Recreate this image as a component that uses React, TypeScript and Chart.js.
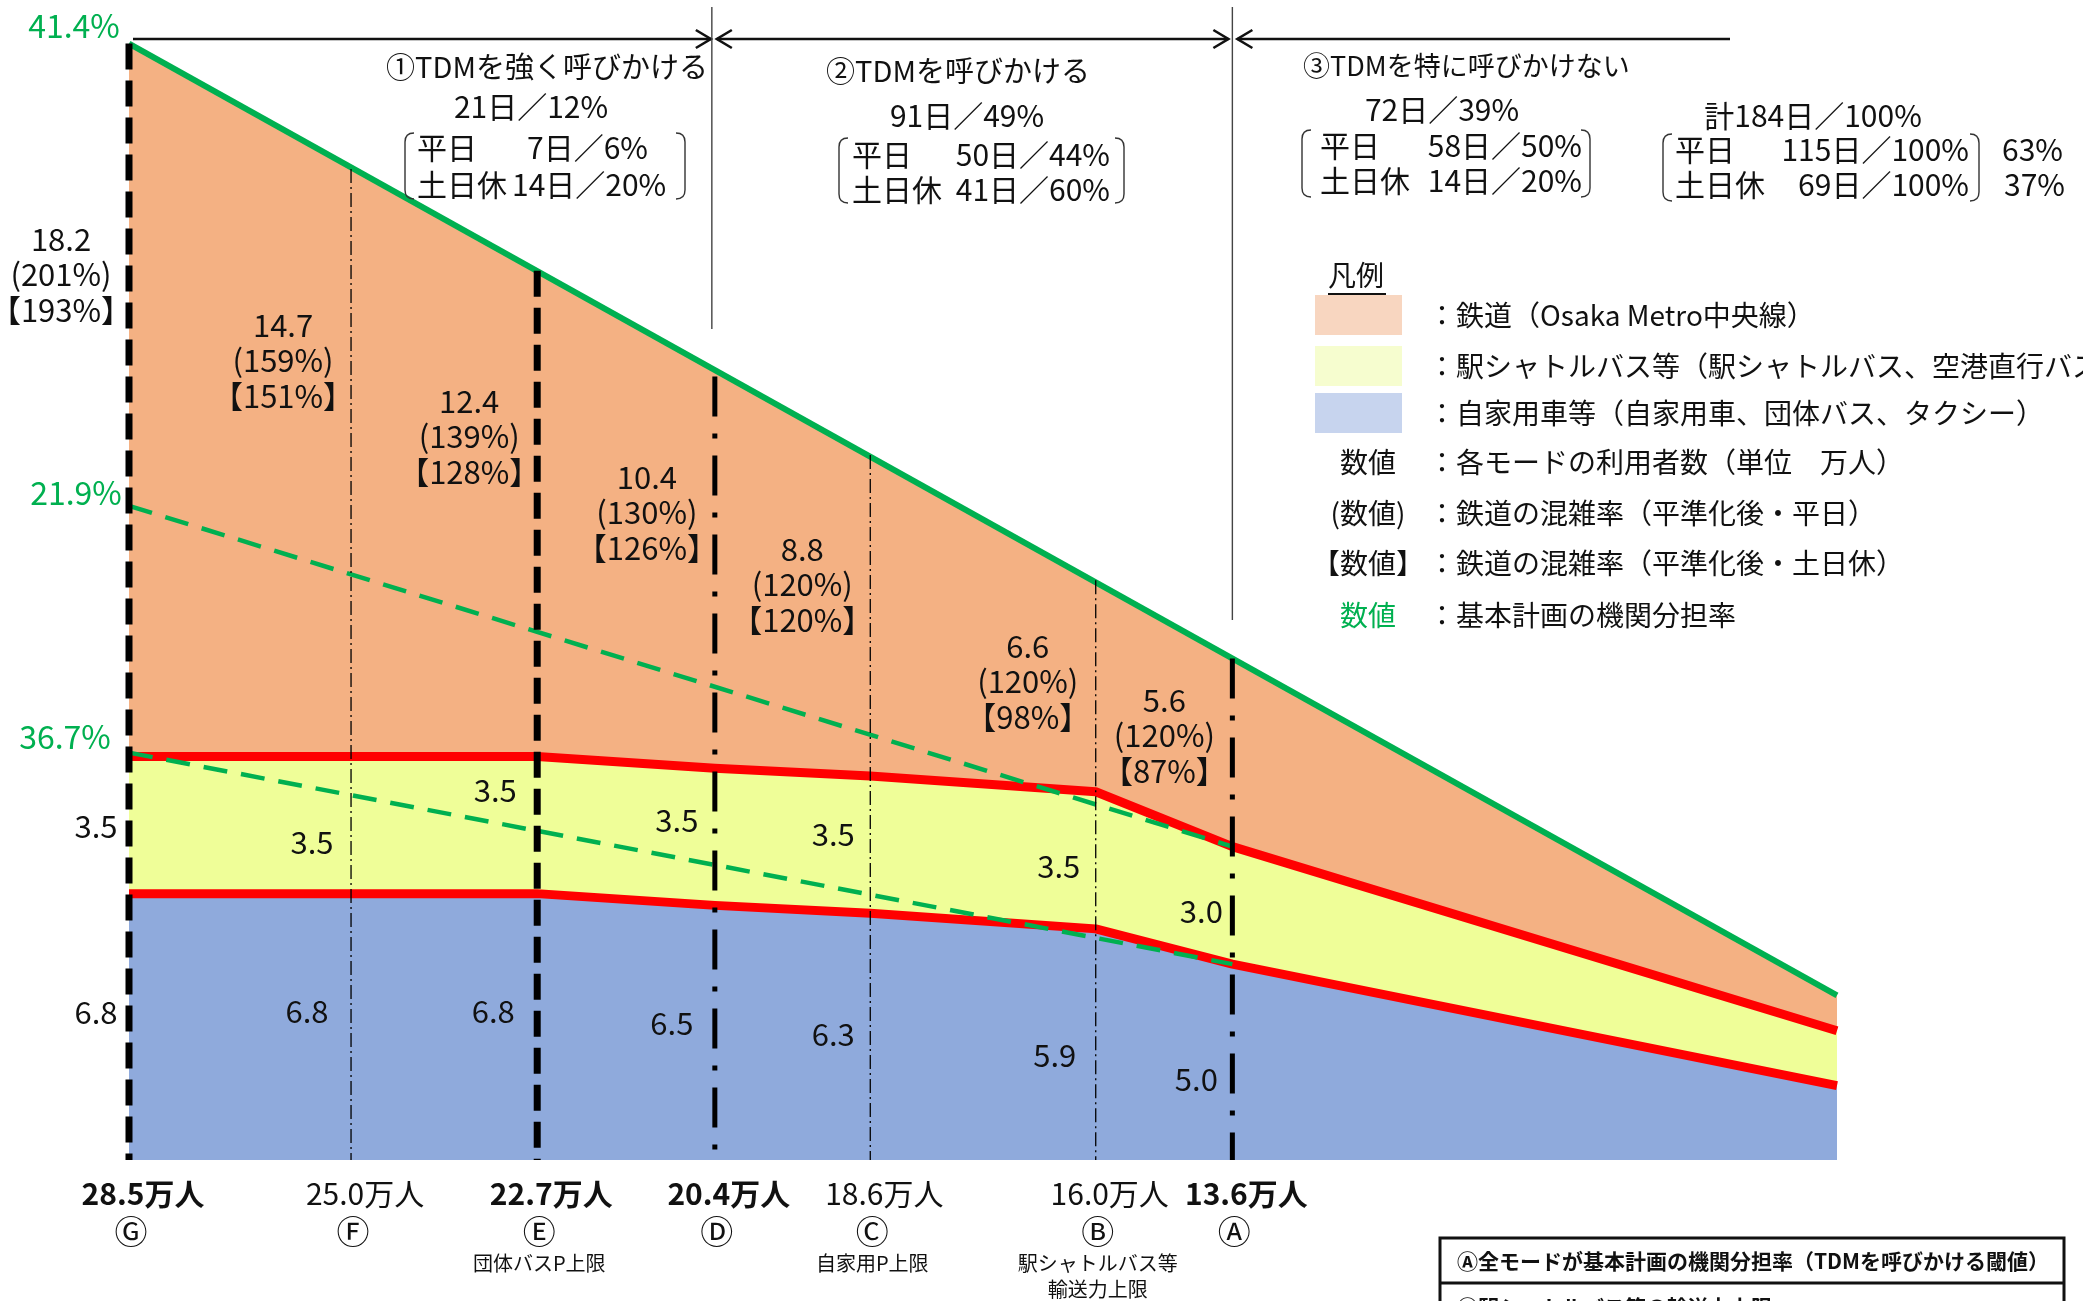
import React, { useEffect, useRef } from "react";
import { Chart, registerables } from "chart.js";

Chart.register(...registerables);

// ---------------- DATA ----------------
// milestones Ⓖ..Ⓐ (left to right) and their schematic position along the axis (0..100)
const milestoneMarks = ["Ⓖ", "Ⓕ", "Ⓔ", "Ⓓ", "Ⓒ", "Ⓑ", "Ⓐ"];
const milestonePos = [0, 13.0, 23.9, 34.3, 43.4, 56.6, 64.6];
const endPos = 100;
const totalUsers = [28.5, 25.0, 22.7, 20.4, 18.6, 16.0, 13.6]; // 万人
const boldMilestone = [true, false, true, true, false, false, true];
const milestoneNotes = ["", "", "団体バスP上限", "", "自家用P上限", "駅シャトルバス等|輸送力上限", ""];

const railUsers = [18.2, 14.7, 12.4, 10.4, 8.8, 6.6, 5.6];
const railWeekday = [201, 159, 139, 130, 120, 120, 120];
const railHoliday = [193, 151, 128, 126, 120, 98, 87];
const shuttleUsers = [3.5, 3.5, 3.5, 3.5, 3.5, 3.5, 3.0];
const carUsers = [6.8, 6.8, 6.8, 6.5, 6.3, 5.9, 5.0];
const endShuttle = 1.4;
const endCar = 1.9;

const totalLine = [28.5, 4.2]; // green line at Ⓖ and at right end
const planCarBus = [16.7, 8.0]; // dashed plan line (car+bus) at Ⓖ and Ⓐ
const planCar = [10.4, 5.0]; // dashed plan line (car) at Ⓖ and Ⓐ
const planShareLabels = ["41.4%", "21.9%", "36.7%"];
const guideTops = [28.5, 25.3, 22.7, 20.0, 18.0, 14.8, 12.8];
const guideStyles = ["dash", "thin", "dash", "dashdot", "thin", "thin", "dashdot"];

const phaseTitles = ["①TDMを強く呼びかける", "②TDMを呼びかける", "③TDMを特に呼びかけない"];
const phaseDays = [21, 91, 72];
const phaseShare = [12, 49, 39];
const weekdayDays = [7, 50, 58];
const weekdayShare = [6, 44, 50];
const holidayDays = [14, 41, 14];
const holidayShare = [20, 60, 20];
const totalDays = 184;
const totalWeekdayDays = 115;
const totalHolidayDays = 69;
const weekdayRatio = 63;
const holidayRatio = 37;

const legendSwatchLabels = [
  "：鉄道（Osaka Metro中央線）",
  "：駅シャトルバス等（駅シャトルバス、空港直行バス、中長距離バス）",
  "：自家用車等（自家用車、団体バス、タクシー）",
];
const legendKeyLabels = ["数値", "(数値)", "【数値】", "数値"];
const legendKeyTexts = [
  "：各モードの利用者数（単位　万人）",
  "：鉄道の混雑率（平準化後・平日）",
  "：鉄道の混雑率（平準化後・土日休）",
  "：基本計画の機関分担率",
];
const noteRows = ["Ⓐ全モードが基本計画の機関分担率（TDMを呼びかける閾値）", "Ⓑ駅シャトルバス等の輸送力上限"];

// ---------------- STYLE / LAYOUT ----------------
const W = 2083;
const H = 1301;
const FONT = '"Noto Sans CJK JP", "Noto Sans", sans-serif';
const C_RAIL = "#F4B183";
const C_BUS = "#EFFE98";
const C_CAR = "#8FAADC";
const C_RAIL_L = "#F8D6C0";
const C_BUS_L = "#F6FDCF";
const C_CAR_L = "#C7D4EE";
const GREEN = "#00B050";
const RED = "#FF0000";

const railLabelY = [239, 325, 401, 477, 549, 646, 700];
const busLabelY = [826, 842, 790, 820, 834, 866, 911];
const busLabelDX = [-33, -39, -42, -38, -37, -37, -31];
const carLabelY = [1012, 1011, 1011, 1023, 1034, 1055, 1079];
const carLabelDX = [-33, -44, -44, -43, -37, -41, -36];

function txt(
  ctx: CanvasRenderingContext2D,
  s: string,
  x: number,
  y: number,
  size: number,
  opt: { bold?: boolean; color?: string; align?: CanvasTextAlign } = {}
) {
  ctx.font = `${opt.bold ? "bold " : ""}${size}px ${FONT}`;
  ctx.fillStyle = opt.color || "#111";
  ctx.textAlign = opt.align || "center";
  ctx.textBaseline = "middle";
  ctx.fillText(s, x, y);
}

function bracket(ctx: CanvasRenderingContext2D, x: number, top: number, bottom: number, left: boolean) {
  const r = 9;
  const d = left ? 1 : -1;
  ctx.save();
  ctx.strokeStyle = "#333";
  ctx.lineWidth = 1.4;
  ctx.beginPath();
  ctx.moveTo(x + d * r, top);
  ctx.quadraticCurveTo(x, top, x, top + r);
  ctx.lineTo(x, bottom - r);
  ctx.quadraticCurveTo(x, bottom, x + d * r, bottom);
  ctx.stroke();
  ctx.restore();
}

function arrowLine(ctx: CanvasRenderingContext2D, x1: number, x2: number, y: number, headL: boolean, headR: boolean) {
  ctx.save();
  ctx.strokeStyle = "#111";
  ctx.lineWidth = 2.6;
  ctx.beginPath();
  ctx.moveTo(x1, y);
  ctx.lineTo(x2, y);
  ctx.stroke();
  const hl = 15;
  const hw = 9;
  if (headR) {
    ctx.beginPath();
    ctx.moveTo(x2 - hl, y - hw);
    ctx.lineTo(x2, y);
    ctx.lineTo(x2 - hl, y + hw);
    ctx.stroke();
  }
  if (headL) {
    ctx.beginPath();
    ctx.moveTo(x1 + hl, y - hw);
    ctx.lineTo(x1, y);
    ctx.lineTo(x1 + hl, y + hw);
    ctx.stroke();
  }
  ctx.restore();
}

const dayStr = (d: number, p: number) => `${d}日／${p}%`;

const annotate = {
  id: "annotate",
  afterDraw(chart: any) {
    const ctx: CanvasRenderingContext2D = chart.ctx;
    const xs = chart.scales.x;
    const px = milestonePos.map((v) => xs.getPixelForValue(v));
    const xD = px[3];
    const xA = px[6];
    const xG = px[0];

    // ---- phase arrows & separators ----
    const ay = 39;
    arrowLine(ctx, xG + 4, xD - 4, ay, false, true);
    arrowLine(ctx, xD + 2, xA - 4, ay, true, true);
    arrowLine(ctx, xA + 5, 1730, ay, true, false);
    ctx.save();
    ctx.strokeStyle = "#444";
    ctx.lineWidth = 1.4;
    ctx.beginPath();
    ctx.moveTo(xD - 3, 7);
    ctx.lineTo(xD - 3, 329);
    ctx.moveTo(xA, 7);
    ctx.lineTo(xA, 620);
    ctx.stroke();
    ctx.restore();

    // ---- phase texts ----
    const FS = 30;
    txt(ctx, phaseTitles[0], 547, 67, 29);
    txt(ctx, dayStr(phaseDays[0], phaseShare[0]), 531, 107, FS);
    txt(ctx, "平日", 417, 148, FS, { align: "left" });
    txt(ctx, dayStr(weekdayDays[0], weekdayShare[0]), 527, 148, FS, { align: "left" });
    txt(ctx, "土日休", 417, 185, FS, { align: "left" });
    txt(ctx, dayStr(holidayDays[0], holidayShare[0]), 512, 185, FS, { align: "left" });
    bracket(ctx, 405, 133, 199, true);
    bracket(ctx, 685, 133, 199, false);

    txt(ctx, phaseTitles[1], 958, 71, 29);
    txt(ctx, dayStr(phaseDays[1], phaseShare[1]), 967, 116, FS);
    txt(ctx, "平日", 852, 155, FS, { align: "left" });
    txt(ctx, dayStr(weekdayDays[1], weekdayShare[1]), 1110, 155, FS, { align: "right" });
    txt(ctx, "土日休", 852, 190, FS, { align: "left" });
    txt(ctx, dayStr(holidayDays[1], holidayShare[1]), 1110, 190, FS, { align: "right" });
    bracket(ctx, 839, 138, 203, true);
    bracket(ctx, 1124, 138, 203, false);

    txt(ctx, phaseTitles[2], 1303, 66, 27, { align: "left" });
    txt(ctx, dayStr(phaseDays[2], phaseShare[2]), 1442, 110, FS);
    txt(ctx, "平日", 1320, 146, FS, { align: "left" });
    txt(ctx, dayStr(weekdayDays[2], weekdayShare[2]), 1582, 146, FS, { align: "right" });
    txt(ctx, "土日休", 1320, 181, FS, { align: "left" });
    txt(ctx, dayStr(holidayDays[2], holidayShare[2]), 1582, 181, FS, { align: "right" });
    bracket(ctx, 1302, 130, 197, true);
    bracket(ctx, 1590, 130, 197, false);

    txt(ctx, `計${totalDays}日／100%`, 1813, 116, FS);
    txt(ctx, "平日", 1675, 150, FS, { align: "left" });
    txt(ctx, dayStr(totalWeekdayDays, 100), 1969, 150, FS, { align: "right" });
    txt(ctx, "土日休", 1675, 185, FS, { align: "left" });
    txt(ctx, dayStr(totalHolidayDays, 100), 1969, 185, FS, { align: "right" });
    bracket(ctx, 1663, 134, 201, true);
    bracket(ctx, 1979, 134, 201, false);
    txt(ctx, `${weekdayRatio}%`, 2002, 150, FS, { align: "left" });
    txt(ctx, `${holidayRatio}%`, 2004, 185, FS, { align: "left" });

    // ---- legend ----
    const LF = 28;
    txt(ctx, "凡例", 1328, 275, LF, { align: "left" });
    ctx.save();
    ctx.strokeStyle = "#111";
    ctx.lineWidth = 2;
    ctx.beginPath();
    ctx.moveTo(1328, 294);
    ctx.lineTo(1386, 294);
    ctx.stroke();
    ctx.restore();
    const swY = [295, 346, 393];
    const swC = [C_RAIL_L, C_BUS_L, C_CAR_L];
    for (let i = 0; i < 3; i++) {
      ctx.fillStyle = swC[i];
      ctx.fillRect(1315, swY[i], 87, 40);
      txt(ctx, legendSwatchLabels[i], 1428, swY[i] + 20, LF, { align: "left" });
    }
    const kY = [462, 513, 563, 615];
    for (let i = 0; i < 4; i++) {
      txt(ctx, legendKeyLabels[i], 1368, kY[i], LF, { color: i === 3 ? GREEN : "#111" });
      txt(ctx, legendKeyTexts[i], 1428, kY[i], LF, { align: "left" });
    }

    // ---- plan share labels (green) ----
    txt(ctx, planShareLabels[0], 74, 26, 32, { color: GREEN });
    txt(ctx, planShareLabels[1], 76, 493, 32, { color: GREEN });
    txt(ctx, planShareLabels[2], 65, 737, 32, { color: GREEN });

    // ---- value labels ----
    const VF = 31;
    for (let i = 0; i < milestonePos.length; i++) {
      const x = px[i];
      const rx = x - 68;
      txt(ctx, railUsers[i].toFixed(1), rx, railLabelY[i], VF);
      txt(ctx, `(${railWeekday[i]}%)`, rx, railLabelY[i] + 35.5, VF);
      txt(ctx, `【${railHoliday[i]}%】`, rx, railLabelY[i] + 71, VF);
      txt(ctx, shuttleUsers[i].toFixed(1), x + busLabelDX[i], busLabelY[i], VF);
      txt(ctx, carUsers[i].toFixed(1), x + carLabelDX[i], carLabelY[i], VF);

      // bottom axis labels
      txt(ctx, `${totalUsers[i].toFixed(1)}万人`, x + 14, 1194, 30, { bold: boldMilestone[i] });
      txt(ctx, milestoneMarks[i], x + 2, 1231, 33);
      const note = milestoneNotes[i];
      if (note) {
        const parts = note.split("|");
        parts.forEach((p, k) => txt(ctx, p, x + 2, 1263 + k * 26, 20));
      }
    }

    // ---- note box ----
    ctx.save();
    ctx.strokeStyle = "#111";
    ctx.lineWidth = 3;
    ctx.strokeRect(1440, 1238, 624, 100);
    ctx.beginPath();
    ctx.moveTo(1440, 1283);
    ctx.lineTo(2064, 1283);
    ctx.stroke();
    ctx.restore();
    txt(ctx, noteRows[0], 1457, 1261, 21, { bold: true, align: "left" });
    txt(ctx, noteRows[1], 1457, 1307, 21, { bold: true, align: "left" });
  },
};

function buildDatasets() {
  const ds: any[] = [];
  // vertical guide lines at milestones (drawn on top)
  milestonePos.forEach((x, i) => {
    const st = guideStyles[i];
    ds.push({
      data: [
        { x, y: guideTops[i] },
        { x, y: 0 },
      ],
      borderColor: "#000",
      borderWidth: st === "dash" ? 7 : st === "dashdot" ? 5 : 1.3,
      borderDash: st === "dash" ? [26, 11] : st === "dashdot" ? [40, 17, 5, 17] : [14, 4, 2, 4],
      borderCapStyle: "butt",
      fill: false,
      pointRadius: 0,
      stack: "guide" + i,
      clip: false,
    });
  });
  // basic-plan modal share lines (dashed green)
  ds.push({
    data: [
      { x: milestonePos[0], y: planCarBus[0] },
      { x: milestonePos[6], y: planCarBus[1] },
    ],
    borderColor: GREEN,
    borderWidth: 4.5,
    borderDash: [24, 14],
    fill: false,
    pointRadius: 0,
    stack: "plan1",
    clip: false,
  });
  ds.push({
    data: [
      { x: milestonePos[0], y: planCar[0] },
      { x: milestonePos[6], y: planCar[1] },
    ],
    borderColor: GREEN,
    borderWidth: 4.5,
    borderDash: [24, 14],
    fill: false,
    pointRadius: 0,
    stack: "plan2",
    clip: false,
  });
  // private car (bottom of stack)
  ds.push({
    label: "自家用車等",
    data: [...milestonePos.map((x, i) => ({ x, y: carUsers[i] })), { x: endPos, y: endCar }],
    borderColor: RED,
    borderWidth: 9,
    backgroundColor: C_CAR,
    fill: "origin",
    pointRadius: 0,
    stack: "modes",
    borderJoinStyle: "round",
    clip: false,
  });
  // shuttle bus (stacked on car)
  ds.push({
    label: "駅シャトルバス等",
    data: [...milestonePos.map((x, i) => ({ x, y: shuttleUsers[i] })), { x: endPos, y: endShuttle }],
    borderColor: RED,
    borderWidth: 9,
    backgroundColor: C_BUS,
    fill: "-1",
    pointRadius: 0,
    stack: "modes",
    borderJoinStyle: "round",
    clip: false,
  });
  // total (green) – rail area filled beneath
  ds.push({
    label: "鉄道",
    data: [
      { x: milestonePos[0], y: totalLine[0] },
      { x: endPos, y: totalLine[1] },
    ],
    borderColor: GREEN,
    borderWidth: 6,
    backgroundColor: C_RAIL,
    fill: "origin",
    pointRadius: 0,
    stack: "total",
    clip: false,
  });
  return ds;
}

export default function App() {
  const ref = useRef<HTMLCanvasElement>(null);
  useEffect(() => {
    document.body.style.margin = "0";
    document.body.style.overflow = "hidden";
    document.body.style.background = "#fff";
    const canvas = ref.current!;
    const chart = new Chart(canvas, {
      type: "line",
      data: { datasets: buildDatasets() },
      options: {
        responsive: false,
        animation: false,
        devicePixelRatio: 1,
        events: [],
        layout: { padding: { left: 129, right: 246, top: 24, bottom: 141 } },
        scales: {
          x: { type: "linear", min: 0, max: 100, display: false },
          y: { type: "linear", min: 0, max: 29, display: false, stacked: true },
        },
        elements: { line: { tension: 0 }, point: { radius: 0 } },
        plugins: {
          legend: { display: false },
          tooltip: { enabled: false },
          title: { display: false },
        },
      } as any,
      plugins: [annotate],
    });
    return () => chart.destroy();
  }, []);
  return (
    <canvas
      ref={ref}
      width={W}
      height={H}
      style={{ display: "block", width: W, height: H }}
    />
  );
}
